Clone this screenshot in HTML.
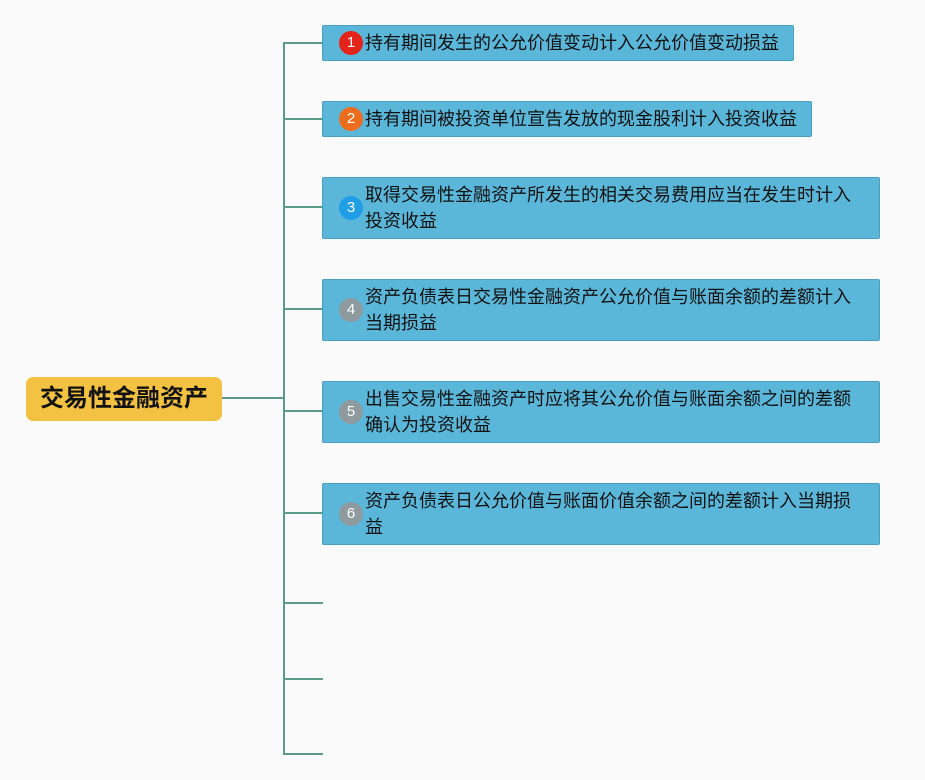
<!DOCTYPE html><html><head><meta charset="utf-8"><style>
body{margin:0;width:925px;height:780px;background:#fafafa;position:relative;overflow:hidden;font-family:"Liberation Sans","Noto Sans CJK SC",sans-serif}
.l{position:absolute;background:#5b9a8b}
.b{position:absolute;left:322px;background:#5bb7da;border:1px solid #4a9fbe;border-radius:2px;box-sizing:border-box;color:#111;font-size:18px;line-height:26px;padding-left:42px;display:flex;align-items:center;white-space:nowrap}
.c{position:absolute;left:16px;top:50%;margin-top:-12px;width:24px;height:24px;border-radius:50%;color:#fff;font-size:15px;line-height:24px;text-align:center}
.r{position:absolute;left:26px;top:377px;width:196px;height:44px;background:#f4c242;border-radius:7px;font-weight:bold;font-size:24px;line-height:44px;text-align:center;color:#111}
</style></head><body>
<div class="r">交易性金融资产</div>
<div class="l" style="left:222px;top:397px;width:62px;height:2px"></div>
<div class="l" style="left:283px;top:42px;width:2px;height:713px"></div>
<div class="l" style="left:283px;top:42px;width:40px;height:2px"></div>
<div class="l" style="left:283px;top:118px;width:40px;height:2px"></div>
<div class="l" style="left:283px;top:206px;width:40px;height:2px"></div>
<div class="l" style="left:283px;top:308px;width:40px;height:2px"></div>
<div class="l" style="left:283px;top:410px;width:40px;height:2px"></div>
<div class="l" style="left:283px;top:512px;width:40px;height:2px"></div>
<div class="l" style="left:283px;top:602px;width:40px;height:2px"></div>
<div class="l" style="left:283px;top:678px;width:40px;height:2px"></div>
<div class="l" style="left:283px;top:753px;width:40px;height:2px"></div>
<div class="b" style="top:25px;width:472px;height:36px"><span class="c" style="background:#e3241b">1</span>持有期间发生的公允价值变动计入公允价值变动损益</div>
<div class="b" style="top:101px;width:490px;height:36px"><span class="c" style="background:#ec6d1e">2</span>持有期间被投资单位宣告发放的现金股利计入投资收益</div>
<div class="b" style="top:177px;width:558px;height:62px"><span class="c" style="background:#1f9ee6">3</span>取得交易性金融资产所发生的相关交易费用应当在发生时计入<br>投资收益</div>
<div class="b" style="top:279px;width:558px;height:62px"><span class="c" style="background:#8e9a9e">4</span>资产负债表日交易性金融资产公允价值与账面余额的差额计入<br>当期损益</div>
<div class="b" style="top:381px;width:558px;height:62px"><span class="c" style="background:#8e9a9e">5</span>出售交易性金融资产时应将其公允价值与账面余额之间的差额<br>确认为投资收益</div>
<div class="b" style="top:483px;width:558px;height:62px"><span class="c" style="background:#8e9a9e">6</span>资产负债表日公允价值与账面价值余额之间的差额计入当期损<br>益</div>
</body></html>
